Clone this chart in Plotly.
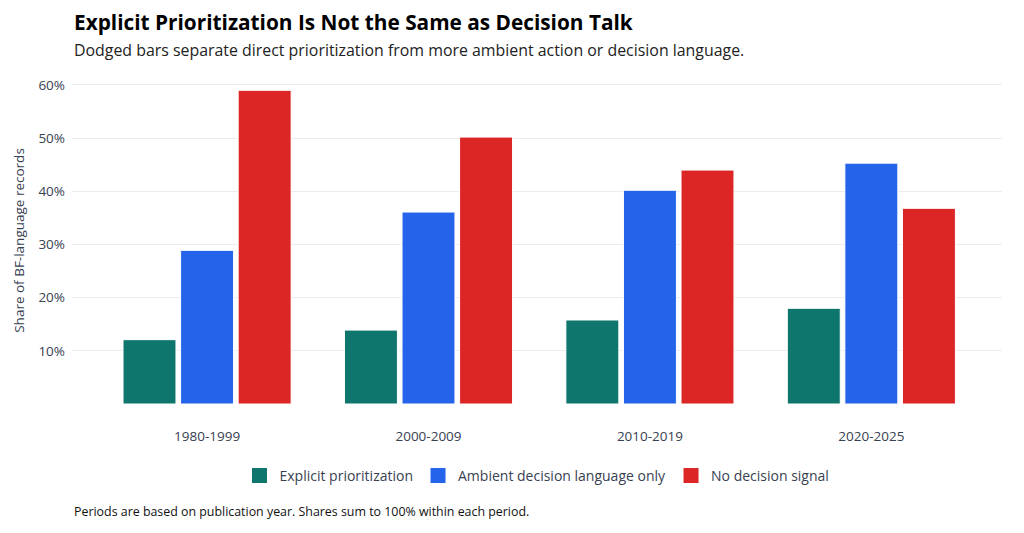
import plotly.graph_objects as go

periods = ["1980-1999", "2000-2009", "2010-2019", "2020-2025"]
explicit = [12.1, 13.9, 15.8, 18.0]
ambient = [28.9, 36.1, 40.2, 45.3]
no_signal = [59.0, 50.2, 44.0, 36.8]

series = [
    ("Explicit prioritization", explicit, "#0f766e"),
    ("Ambient decision language only", ambient, "#2563eb"),
    ("No decision signal", no_signal, "#dc2626"),
]

y_ticks = [10, 20, 30, 40, 50, 60]

FONT = "Open Sans"

fig = go.Figure()
for name, vals, color in series:
    fig.add_trace(go.Bar(
        x=periods, y=vals, name=name, showlegend=False,
        marker=dict(color=color, line=dict(color="white", width=1)),
        hovertemplate="%{x}<br>%{y:.1f}%<extra>" + name + "</extra>",
    ))
# bigger square swatches for the legend
for name, vals, color in series:
    fig.add_trace(go.Scatter(
        x=[None], y=[None], mode="markers", name=name,
        marker=dict(symbol="square", size=18, color=color, line=dict(color="white", width=1)),
    ))

# page body has an 8px margin, so the figure is sized to fit inside it
fig.update_layout(
    width=1016, height=525,
    barmode="group", bargap=0.22, bargroupgap=0.08,
    plot_bgcolor="white", paper_bgcolor="white",
    font=dict(family=FONT, size=13, color="#374151"),
    margin=dict(l=64, r=22, t=69, b=129, autoexpand=False),
    showlegend=True,
    legend=dict(orientation="h", x=0.5, xanchor="center", y=-0.22, yanchor="middle",
                font=dict(size=14, color="#374151"), itemwidth=30),
    xaxis=dict(range=[-0.61, 3.59], showgrid=False, zeroline=False, showline=False,
               ticks="", ticklabelstandoff=22, tickfont=dict(size=13.5), automargin=False),
    yaxis=dict(range=[0, 61.5], tickvals=y_ticks, ticktext=[f"{v}%" for v in y_ticks],
               gridcolor="#ececec", zeroline=False, showline=False, ticklabelstandoff=6,
               automargin=False, tickfont=dict(size=13.5),
               title=dict(text="Share of BF-language records", font=dict(size=13.5), standoff=10)),
    annotations=[
        dict(text="<b>Explicit Prioritization Is Not the Same as Decision Talk</b>",
             xref="paper", yref="paper", x=0, y=1.168, xanchor="left", yanchor="middle",
             showarrow=False, font=dict(size=20.8, color="black")),
        dict(text="Dodged bars separate direct prioritization from more ambient action or decision language.",
             xref="paper", yref="paper", x=0, y=1.083, xanchor="left", yanchor="middle",
             showarrow=False, font=dict(size=15.9, color="#222222")),
        dict(text="Periods are based on publication year. Shares sum to 100% within each period.",
             xref="paper", yref="paper", x=0, y=-0.33, xanchor="left", yanchor="middle",
             showarrow=False, font=dict(size=12.4, color="#111111")),
    ],
)

fig.write_html("out.html")
